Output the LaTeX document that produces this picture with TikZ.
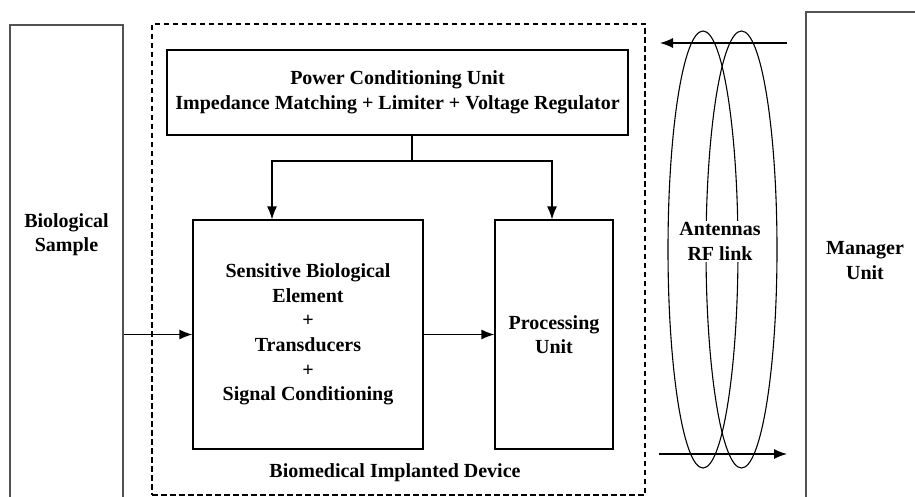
\documentclass[tikz,border=0pt]{standalone}
\usepackage{fontspec}
\setmainfont{Liberation Serif}
\usetikzlibrary{arrows.meta,calc}
\begin{document}
\begin{tikzpicture}[x=1pt,y=-1pt,
  txt/.style={font=\fontsize{20}{24.6}\selectfont\bfseries, align=center, inner sep=1pt},
  blk/.style={draw=black, line width=1.2pt, fill=white, inner sep=0pt},
  outer/.style={draw=black!68, line width=1.8pt, inner sep=0pt},
  arr/.style={line width=1.2pt, -{Latex[length=13pt,width=10pt]}},
  ant/.style={line width=1.1pt}
]
\clip (0,0) rectangle (915,497);
\fill[white] (0,0) rectangle (915,497);

% outer boxes (cut by the frame)
\node[outer, minimum width=113pt, minimum height=495pt] (bio) at (66.5,272.5) {};
\node[txt] (biot) at (66.5,234.5) {Biological\\Sample};
\node[outer, minimum width=120pt, minimum height=508pt] (mgr) at (866,266) {};
\node[txt] (mgrt) at (865,260.5) {Manager\\Unit};

% implanted device frame
\node[draw=black, line width=2.8pt, dash pattern=on 5.5pt off 3.5pt, minimum width=493pt, minimum height=471pt, inner sep=0pt] (dev) at (398.5,259.5) {};
\node[txt] (devt) at (395,473) {Biomedical Implanted Device};

% inner blocks
\node[blk, minimum width=461pt, minimum height=85pt] (pcu) at (397.5,92.5) {};
\node[txt] at (pcu) {Power Conditioning Unit\\Impedance Matching + Limiter + Voltage Regulator};
\node[blk, minimum width=230pt, minimum height=229pt] (sens) at (308,334.5) {};
\node[txt] at (sens) {Sensitive Biological\\Element\\+\\Transducers\\+\\Signal Conditioning};
\node[blk, minimum width=118pt, minimum height=229pt] (proc) at (554,334.5) {};
\node[txt] at (proc) {Processing\\Unit};

% power distribution
\coordinate (j) at (412,161);
\draw[line width=1.2pt] (pcu.south -| j) -- (j);
\draw[arr] (j) -| ($(sens.north)+(-36,0)$);
\draw[arr] (j) -| ($(proc.north)+(-2,0)$);

% signal path
\draw[arr] (sens.west -| bio.east) -- (sens.west);
\draw[arr] (sens.east) -- (proc.west);

% antennas
\draw[ant] (703,249.5) ellipse [x radius=35, y radius=218.5];
\draw[ant] (741.5,249.5) ellipse [x radius=35.5, y radius=218.5];
\node[txt, fill=white, inner sep=1.5pt] (antt) at (720,241.5) {Antennas\\RF link};

% RF link arrows
\coordinate (a1) at (787,43);
\coordinate (a2) at (660,43);
\coordinate (b1) at (659,454);
\coordinate (b2) at (787,454);
\draw[arr] (a1) -- (a2);
\draw[arr] (b1) -- (b2);
\end{tikzpicture}
\end{document}
